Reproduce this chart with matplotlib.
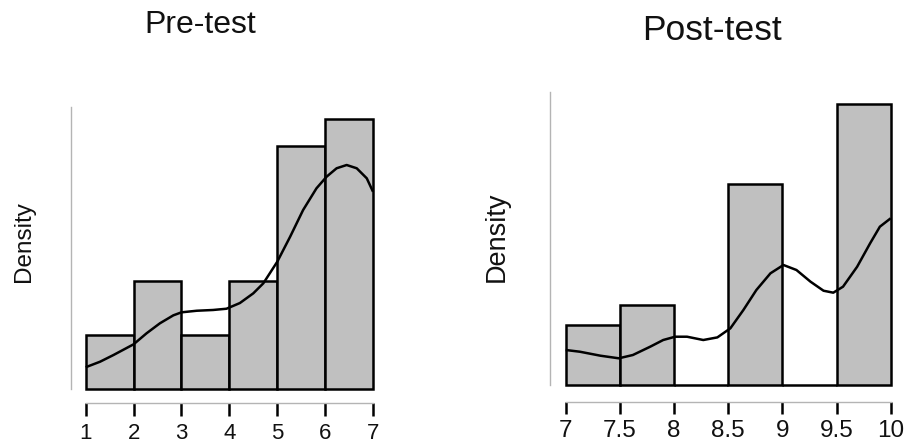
import matplotlib
matplotlib.use("Agg")
import matplotlib.pyplot as plt
import numpy as np

plt.rcParams['font.family'] = ['Liberation Sans', 'DejaVu Sans']

# ---------------- data ----------------
pre_edges = [1, 2, 3, 4, 5, 6, 7]
pre_counts = [2, 4, 2, 4, 9, 10]
pre_ticks = [1, 2, 3, 4, 5, 6, 7]
pre_kde_x = [1.0, 1.3, 1.58, 2.0, 2.27, 2.55, 2.83, 3.0, 3.32, 3.66, 3.94, 4.22,
             4.5, 4.71, 5.0, 5.27, 5.54, 5.82, 6.03, 6.24, 6.45, 6.66, 6.87, 7.0]
pre_kde_y = [0.026, 0.0326, 0.0406, 0.0534, 0.0665, 0.0785, 0.088, 0.0916, 0.0935,
             0.0944, 0.0959, 0.1027, 0.1143, 0.1263, 0.152, 0.182, 0.2138, 0.2398,
             0.2536, 0.2637, 0.2676, 0.2637, 0.2517, 0.2357]

post_edges = [7, 7.5, 8, 8.5, 9, 9.5, 10]
post_counts = [3, 4, 0, 10, 0, 14]
post_ticks = [7, 7.5, 8, 8.5, 9, 9.5, 10]
post_tick_labels = ["7", "7.5", "8", "8.5", "9", "9.5", "10"]
post_kde_x = [7.0, 7.13, 7.32, 7.49, 7.62, 7.78, 7.90, 8.01, 8.12, 8.27, 8.40, 8.52,
              8.64, 8.76, 8.89, 9.01, 9.13, 9.26, 9.38, 9.47, 9.56, 9.69, 9.81, 9.90, 10.0]
post_kde_y = [0.1125, 0.107, 0.0942, 0.0858, 0.0964, 0.1231, 0.1446, 0.1552, 0.1552,
              0.1446, 0.153, 0.1822, 0.241, 0.3053, 0.359, 0.3857, 0.3696, 0.332,
              0.303, 0.2967, 0.316, 0.380, 0.4554, 0.5088, 0.5358]

W, H = 907, 446
fig = plt.figure(figsize=(W / 100, H / 100), dpi=100)


def px_axes(x0, x1, ybase, ytop):
    return fig.add_axes([x0 / W, 1 - ybase / H, (x1 - x0) / W, (ybase - ytop) / H])


def draw(ax, edges, counts, kx, ky, ticks, labels, ylim, ybound, spine_out_x,
         spine_out_y, ticklen, fs, pad):
    edges = np.array(edges, dtype=float)
    counts = np.array(counts, dtype=float)
    widths = np.diff(edges)
    dens = counts / (counts.sum() * widths)
    ax.bar(edges[:-1], dens, width=widths, align='edge', color='#c0c0c0',
           edgecolor='black', linewidth=1.8, clip_on=False, zorder=2)
    ax.plot(kx, ky, color='black', lw=1.8, zorder=3, clip_on=False,
            solid_capstyle='butt', solid_joinstyle='round')
    ax.set_xlim(edges[0], edges[-1])
    ax.set_ylim(*ylim)
    for s in ['top', 'right']:
        ax.spines[s].set_visible(False)
    ax.spines['left'].set_position(('outward', spine_out_y))
    ax.spines['left'].set_bounds(0, ybound)
    ax.spines['left'].set_color('#b4b4b4')
    ax.spines['left'].set_linewidth(1.0)
    ax.spines['bottom'].set_position(('outward', spine_out_x))
    ax.spines['bottom'].set_bounds(edges[0], edges[-1])
    ax.spines['bottom'].set_color('#b4b4b4')
    ax.spines['bottom'].set_linewidth(1.0)
    ax.set_yticks([])
    ax.set_xticks(ticks)
    ax.set_xticklabels(labels, fontsize=fs, color='#111111')
    ax.tick_params(axis='x', direction='out', length=ticklen, width=1.8,
                   color='black', pad=pad)
    ax.patch.set_alpha(0)


ax1 = px_axes(85.7, 373.0, 389, 96)
draw(ax1, pre_edges, pre_counts, pre_kde_x, pre_kde_y, pre_ticks,
     [str(t) for t in pre_ticks], (0, (389 - 96) * 0.0011947),
     (389 - 107) * 0.0011947, 14 * 0.72, 14.7 * 0.72, 13 * 0.72, 16, 5)

ax2 = px_axes(565.7, 890.7, 385, 74)
draw(ax2, post_edges, post_counts, post_kde_x, post_kde_y, post_ticks,
     post_tick_labels, (0, (385 - 74) * 0.003214),
     (385 - 92) * 0.003214, 16.7 * 0.72, 15.7 * 0.72, 12.3 * 0.72, 17.5, 4.5)

fig.text(200 / W, 1 - 25 / H, "Pre-test", ha='center', va='center', fontsize=23,
         color='#111111')
fig.text(712 / W, 1 - 31 / H, "Post-test", ha='center', va='center', fontsize=25.5,
         color='#111111')
fig.text(24 / W, 1 - 242 / H, "Density", ha='center', va='center', fontsize=17.5,
         rotation=90, color='#111111')
fig.text(497 / W, 1 - 237 / H, "Density", ha='center', va='center', fontsize=19.5,
         rotation=90, color='#111111')

fig.savefig("out.png", dpi=100)
